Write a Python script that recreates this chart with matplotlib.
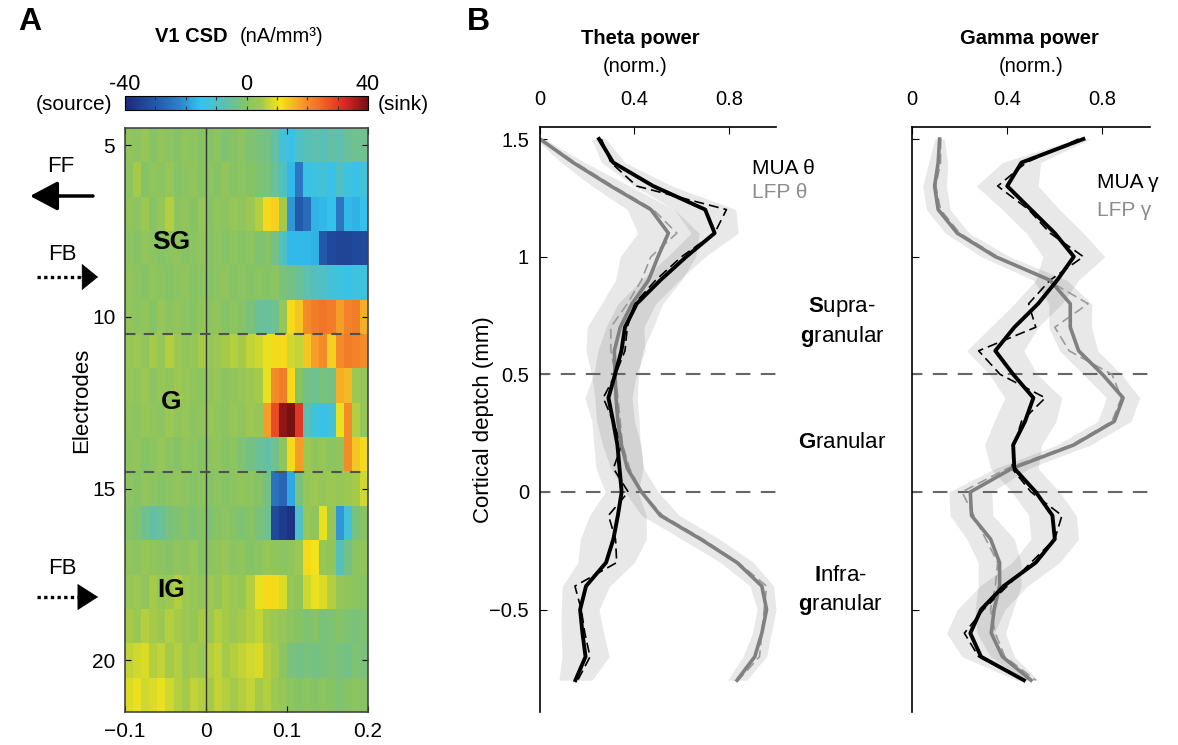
import numpy as np
import matplotlib
matplotlib.use("Agg")
import matplotlib.pyplot as plt
from matplotlib.colors import LinearSegmentedColormap
from matplotlib.patches import FancyArrowPatch

plt.rcParams['font.family'] = ['Liberation Sans', 'DejaVu Sans']
plt.rcParams['mathtext.fontset'] = 'custom'
plt.rcParams['mathtext.rm'] = 'Liberation Sans'
plt.rcParams['mathtext.bf'] = 'Liberation Sans:bold'
plt.rcParams['axes.linewidth'] = 1.2

W, H = 1178, 745

# ---- panel A: V1 CSD, electrodes 5..21, time bins of 10 ms from -0.1 to 0.2 s
electrodes = list(range(5, 22))
time_lim = [-0.1, 0.2]
csd = [
    [2, 1, 3, 0, 2, 1, 0, 2, 1, 0, 0, 1, -1, 0, 1, -1, -2, -3, -6, -12, -14, -10, -8, -7, -8, -6, -7, -5, -4, -4],
    [1, 5, 0, 2, 1, 3, 0, 1, 2, 0, 1, 0, 2, 0, 1, 0, -1, -2, -5, -10, -16, -24, -14, -13, -12, -14, -10, -13, -14, -12],
    [2, 1, 4, 0, 3, 6, 1, 2, 0, 3, 0, 2, 1, 3, 2, 4, 6, 12, 13, 5, -20, -30, -26, -17, -16, -15, -24, -16, -17, -15],
    [1, 0, 2, 1, 0, 1, 2, 0, 1, 2, 0, 1, 0, 1, 0, 1, -1, 0, -3, -10, -16, -16, -16, -17, -30, -33, -34, -34, -33, -33],
    [2, 1, 0, 2, 1, 0, 1, 2, 0, 1, 0, 1, 2, 0, 1, 0, 1, 0, 1, -2, -3, -5, -7, -9, -10, -12, -13, -14, -13, -13],
    [2, 1, 2, 0, 3, 1, 2, 1, 0, 2, 1, 2, 0, 1, 0, -2, -5, -5, -4, 3, 12, 14, 20, 22, 23, 22, 18, 21, 22, 16],
    [3, 4, 2, 5, 3, 6, 4, 2, 3, 5, 3, 4, 5, 6, 5, 7, 8, 10, 12, 12, 8, 7, 14, 18, 20, 13, 20, 22, 21, 20],
    [3, 2, 4, 1, 3, 2, 4, 3, 2, 1, 2, 3, 1, 2, 3, 4, 5, 10, 20, 22, 12, 0, -3, -4, -2, -3, 16, 15, 4, 3],
    [2, 1, 3, 2, 1, 4, 2, 3, 1, 2, 3, 2, 1, 3, 2, 4, 3, 18, 28, 38, 40, 30, -8, -13, -14, -12, 10, 20, 6, 3],
    [1, 2, 0, 1, 3, 1, 0, 2, 1, 0, 1, 2, 0, 1, -1, -3, -5, -6, -4, 2, 12, 18, 4, 2, 3, 1, 2, 20, 14, 12],
    [1, 0, 2, 1, 0, 1, 2, 1, 0, 1, 0, 1, 0, 1, 2, 1, 0, -3, -25, -27, -18, -2, 3, 4, 3, 4, 3, 4, 5, 8],
    [0, -1, -4, -6, -5, -2, -1, 0, -1, 0, -1, 0, 1, 0, -1, 0, -2, -4, -33, -36, -38, -10, 3, 2, 10, 3, -20, -12, -2, 0],
    [2, 1, 3, 2, 1, 0, 2, 1, 3, 0, 1, 2, 3, 1, 2, 0, 1, 3, 2, 1, 2, 4, 12, 11, 3, 2, -9, -3, 1, 2],
    [3, 4, 2, 5, 3, 4, 6, 4, 3, 2, 4, 3, 5, 4, 3, 6, 10, 12, 12, 9, 3, 2, 8, 10, 9, 6, 3, 2, 1, 0],
    [5, 4, 6, 5, 4, 6, 5, 4, 3, 5, 4, 6, 5, 4, 5, 6, 7, 5, 4, 3, 1, 0, -1, 0, -2, -1, 0, -1, -2, -1],
    [7, 8, 9, 6, 7, 5, 6, 4, 5, 4, 6, 7, 5, 6, 7, 8, 9, 6, 5, 1, -2, -3, -2, -3, -2, -1, -2, -3, -1, -2],
    [9, 10, 8, 9, 10, 8, 6, 5, 7, 6, 5, 7, 6, 5, 6, 7, 5, 6, 4, 3, 1, 0, 1, 0, 1, 0, -1, 0, 1, 0],
]
layer_bounds_el = [10.5, 14.5]

# ---- panel B: laminar power profiles
depth = [1.5, 1.4, 1.3, 1.2, 1.1, 1.0, 0.9, 0.8, 0.7, 0.6, 0.5, 0.4,
         0.3, 0.2, 0.1, 0.0, -0.1, -0.2, -0.3, -0.4, -0.5, -0.6, -0.7, -0.8]

theta_mua = [0.25, 0.31, 0.48, 0.70, 0.74, 0.62, 0.51, 0.41, 0.36, 0.345, 0.318, 0.29,
             0.31, 0.328, 0.337, 0.346, 0.33, 0.311, 0.28, 0.195, 0.17, 0.18, 0.193, 0.15]
theta_mua_dash = [0.26, 0.30, 0.41, 0.79, 0.74, 0.60, 0.49, 0.40, 0.37, 0.36, 0.32, 0.268,
                  0.31, 0.346, 0.311, 0.374, 0.29, 0.32, 0.325, 0.148, 0.175, 0.19, 0.212, 0.16]
theta_mua_err = [0.03, 0.05, 0.08, 0.13, 0.10, 0.08, 0.08, 0.08, 0.08, 0.10, 0.09, 0.10,
                 0.09, 0.10, 0.10, 0.07, 0.12, 0.14, 0.12, 0.10, 0.08, 0.09, 0.10, 0.07]
theta_lfp = [0.0, 0.14, 0.30, 0.47, 0.544, 0.50, 0.46, 0.39, 0.34, 0.315, 0.318, 0.322,
             0.33, 0.345, 0.37, 0.43, 0.51, 0.68, 0.835, 0.94, 0.96, 0.94, 0.91, 0.835]
theta_lfp_dash = [0.0, 0.15, 0.31, 0.48, 0.58, 0.47, 0.43, 0.37, 0.30, 0.30, 0.32, 0.33,
                  0.34, 0.35, 0.38, 0.43, 0.52, 0.69, 0.84, 0.96, 0.95, 0.94, 0.93, 0.84]
theta_lfp_err = [0.02, 0.05, 0.08, 0.10, 0.13, 0.16, 0.14, 0.13, 0.14, 0.12, 0.10, 0.09,
                 0.09, 0.08, 0.07, 0.07, 0.08, 0.08, 0.07, 0.05, 0.04, 0.04, 0.05, 0.04]

gamma_mua = [0.72, 0.46, 0.40, 0.50, 0.60, 0.68, 0.61, 0.53, 0.43, 0.35, 0.425, 0.51,
             0.475, 0.425, 0.43, 0.52, 0.59, 0.60, 0.52, 0.385, 0.29, 0.245, 0.29, 0.47]
gamma_mua_dash = [0.70, 0.48, 0.36, 0.49, 0.58, 0.72, 0.58, 0.49, 0.52, 0.28, 0.37, 0.56,
                  0.46, 0.43, 0.42, 0.50, 0.63, 0.60, 0.50, 0.40, 0.30, 0.22, 0.28, 0.47]
gamma_mua_err = [0.03, 0.08, 0.13, 0.12, 0.12, 0.13, 0.09, 0.10, 0.10, 0.12, 0.10, 0.12,
                 0.13, 0.12, 0.10, 0.10, 0.10, 0.10, 0.10, 0.10, 0.10, 0.10, 0.08, 0.03]
gamma_lfp = [0.116, 0.11, 0.095, 0.11, 0.19, 0.35, 0.58, 0.665, 0.665, 0.70, 0.80, 0.887,
             0.85, 0.68, 0.42, 0.245, 0.25, 0.33, 0.368, 0.368, 0.345, 0.333, 0.38, 0.50]
gamma_lfp_dash = [0.12, 0.12, 0.10, 0.12, 0.20, 0.36, 0.57, 0.74, 0.60, 0.66, 0.84, 0.88,
                  0.84, 0.67, 0.40, 0.21, 0.26, 0.31, 0.36, 0.35, 0.33, 0.35, 0.39, 0.52]
gamma_lfp_err = [0.02, 0.04, 0.05, 0.05, 0.05, 0.06, 0.07, 0.09, 0.09, 0.08, 0.08, 0.07,
                 0.07, 0.07, 0.07, 0.09, 0.09, 0.10, 0.09, 0.09, 0.08, 0.06, 0.05, 0.03]
layer_bounds_mm = [0.5, 0.0]

cmap = LinearSegmentedColormap.from_list('csd', [
    (0.00, '#1c2a7a'), (0.12, '#2456a8'), (0.22, '#2f7fc8'), (0.31, '#33c3ef'),
    (0.42, '#62c0aa'), (0.50, '#86c366'), (0.56, '#a0c94e'), (0.605, '#d6da2a'),
    (0.64, '#f5e41a'), (0.72, '#f6a02a'), (0.82, '#ef6127'), (0.90, '#dd2a26'),
    (1.00, '#781012')])


def box(l, t, r, b):
    return [l / W, 1 - b / H, (r - l) / W, (b - t) / H]


fig = plt.figure(figsize=(W / 100, H / 100), dpi=100)

# ---------------- A: heatmap
ax = fig.add_axes(box(125, 128, 368, 712))
im = ax.imshow(np.array(csd, dtype=float), cmap=cmap, vmin=-40, vmax=40, aspect='auto',
               interpolation='nearest',
               extent=[time_lim[0], time_lim[1], electrodes[-1] + 0.5, electrodes[0] - 0.5])
ax.axvline(0, color='#333333', lw=1)
for e in layer_bounds_el:
    ax.axhline(e, color='#505050', lw=1.5, ls=(0, (5, 4)))
ax.set_xticks([-0.1, 0, 0.1, 0.2])
ax.set_xticklabels(['\u22120.1', '0', '0.1', '0.2'])
ax.set_yticks([5, 10, 15, 20])
ax.tick_params(direction='in', top=True, right=True, labelsize=15, length=4, pad=7)
for s in ax.spines.values():
    s.set_color('#444444')

cax = fig.add_axes(box(125, 96, 368, 110))
cb = fig.colorbar(im, cax=cax, orientation='horizontal')
cax.xaxis.set_ticks_position('top')
cb.set_ticks([-40, 0, 40])
cb.set_ticklabels(['-40', '0', '40'])
cax.set_xticks(np.arange(-30, 40, 10), minor=True)
cax.tick_params(which='both', direction='in', top=True, bottom=True, length=3,
                width=0.8, color='#333333', labelsize=15.5, pad=1)
cb.outline.set_linewidth(0.8)

# ---------------- B: theta and gamma profiles
def profile(ax, mua, mua_d, mua_e, lfp, lfp_d, lfp_e):
    d = np.array(depth)
    for m, e in ((np.array(mua), np.array(mua_e)), (np.array(lfp), np.array(lfp_e))):
        ax.fill_betweenx(d, m - e, m + e, color='k', alpha=0.09, lw=0)
    for y in layer_bounds_mm:
        ax.axhline(y, color='#666666', lw=1.5, ls=(2, (7, 5)))
    ax.plot(lfp_d, d, color='#9a9a9a', lw=1.2, ls=(0, (6, 3)))
    ax.plot(mua_d, d, color='k', lw=1.2, ls=(0, (6, 3)))
    ax.plot(lfp, d, color='#808080', lw=2.6)
    ax.plot(mua, d, color='k', lw=2.8)
    ax.set_xlim(0, 1.0)
    ax.set_ylim(-0.935, 1.551)
    ax.xaxis.tick_top()
    ax.spines['right'].set_visible(False)
    ax.spines['bottom'].set_visible(False)
    ax.set_xticks([0, 0.4, 0.8])
    ax.set_xticklabels(['0', '0.4', '0.8'])
    ax.set_yticks([-0.5, 0, 0.5, 1, 1.5])
    ax.tick_params(direction='in', length=5, labelsize=14.5)
    ax.tick_params(axis='x', pad=13)
    ax.tick_params(axis='y', pad=8)


axt = fig.add_axes(box(540, 127, 776, 712))
profile(axt, theta_mua, theta_mua_dash, theta_mua_err, theta_lfp, theta_lfp_dash, theta_lfp_err)
axt.set_yticklabels(['\u22120.5', '0', '0.5', '1', '1.5'])

axg = fig.add_axes(box(912, 127, 1150, 712))
profile(axg, gamma_mua, gamma_mua_dash, gamma_mua_err, gamma_lfp, gamma_lfp_dash, gamma_lfp_err)
axg.set_yticklabels([])

# ---------------- text and arrows, in pixel coordinates
ov = fig.add_axes([0, 0, 1, 1], zorder=10)
ov.set_xlim(0, W)
ov.set_ylim(H, 0)
ov.axis('off')

ov.text(30, 22, 'A', fontsize=23, weight='bold', ha='center', va='center')
ov.text(478, 22, 'B', fontsize=23, weight='bold', ha='center', va='center')
ov.text(228, 37, 'V1 CSD', fontsize=14.5, weight='bold', ha='right', va='center')
ov.text(240, 37, '(nA/mm\u00b3)', fontsize=14.5, ha='left', va='center')
ov.text(112, 105, '(source)', fontsize=15, ha='right', va='center')
ov.text(378, 105, '(sink)', fontsize=15, ha='left', va='center')
ov.text(82, 400, 'Electrodes', fontsize=16, rotation=90, ha='center', va='center')

for label, y in (('SG', 242), ('G', 402), ('IG', 590)):
    ov.text(171, y, label, fontsize=19, weight='bold', ha='center', va='center')

ov.text(61, 167, 'FF', fontsize=16, ha='center', va='center')
ov.add_patch(FancyArrowPatch((93, 196), (30, 196), arrowstyle='-|>,head_length=0.85,head_width=0.45',
                             mutation_scale=20, lw=2.5, color='k', shrinkA=0, shrinkB=0))
for ty, ay, hl in ((255, 277, 0.55), (568, 597, 0.7)):
    ov.text(62, ty, 'FB', fontsize=16, ha='center', va='center')
    ov.plot([37, 86], [ay, ay], color='k', lw=2.4, ls=(0, (1, 1)))
    ov.add_patch(FancyArrowPatch((80, ay), (98, ay),
                                 arrowstyle='-|>,head_length=%.2f,head_width=0.45' % hl,
                                 mutation_scale=20, lw=0.5, color='k', shrinkA=0, shrinkB=0))

ov.text(640, 38, 'Theta power', fontsize=14.5, weight='bold', ha='center', va='center')
ov.text(635, 67, '(norm.)', fontsize=14.5, ha='center', va='center')
ov.text(1029, 38, 'Gamma power', fontsize=14.5, weight='bold', ha='center', va='center')
ov.text(1031, 67, '(norm.)', fontsize=14.5, ha='center', va='center')
ov.text(483, 420, 'Cortical deptch (mm)', fontsize=16, rotation=90, ha='center', va='center')

ov.text(752, 168, 'MUA \u03b8', fontsize=15, ha='left', va='center')
ov.text(752, 193, 'LFP \u03b8', fontsize=15, color='#8c8c8c', ha='left', va='center')
ov.text(1097, 182, 'MUA \u03b3', fontsize=15, ha='left', va='center')
ov.text(1097, 210, 'LFP \u03b3', fontsize=15, color='#8c8c8c', ha='left', va='center')

ov.text(842, 322, '$\\mathbf{S}$upra-\n$\\mathbf{g}$ranular', fontsize=16, ha='center', va='center',
        linespacing=1.3)
ov.text(842, 442, '$\\mathbf{G}$ranular', fontsize=16, ha='center', va='center')
ov.text(840, 591, '$\\mathbf{I}$nfra-\n$\\mathbf{g}$ranular', fontsize=16, ha='center', va='center',
        linespacing=1.3)

fig.savefig('out.png', dpi=100)
